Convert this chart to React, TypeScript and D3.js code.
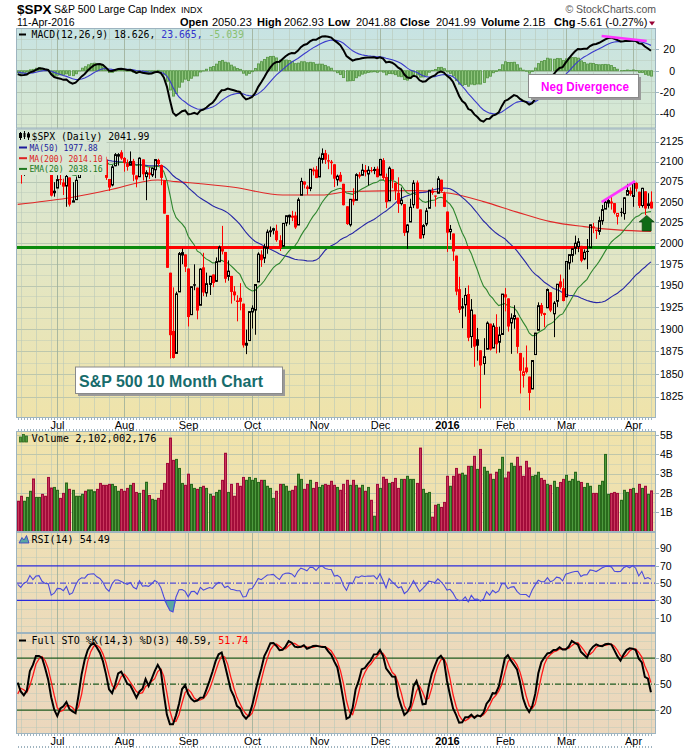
import React, { useEffect } from "react";
import * as d3 from "d3";

const W = 700;
const H = 748;

// ---------- trading calendar ----------
const tradingDays: [string, number[]][] = [
  ["2015-06", [12, 15, 16, 17, 18, 19, 22, 23, 24, 25, 26, 29, 30]],
  ["2015-07", [1, 2, 6, 7, 8, 9, 10, 13, 14, 15, 16, 17, 20, 21, 22, 23, 24, 27, 28, 29, 30, 31]],
  ["2015-08", [3, 4, 5, 6, 7, 10, 11, 12, 13, 14, 17, 18, 19, 20, 21, 24, 25, 26, 27, 28, 31]],
  ["2015-09", [1, 2, 3, 4, 8, 9, 10, 11, 14, 15, 16, 17, 18, 21, 22, 23, 24, 25, 28, 29, 30]],
  ["2015-10", [1, 2, 5, 6, 7, 8, 9, 12, 13, 14, 15, 16, 19, 20, 21, 22, 23, 26, 27, 28, 29, 30]],
  ["2015-11", [2, 3, 4, 5, 6, 9, 10, 11, 12, 13, 16, 17, 18, 19, 20, 23, 24, 25, 27, 30]],
  ["2015-12", [1, 2, 3, 4, 7, 8, 9, 10, 11, 14, 15, 16, 17, 18, 21, 22, 23, 24, 28, 29, 30, 31]],
  ["2016-01", [4, 5, 6, 7, 8, 11, 12, 13, 14, 15, 19, 20, 21, 22, 25, 26, 27, 28, 29]],
  ["2016-02", [1, 2, 3, 4, 5, 8, 9, 10, 11, 12, 16, 17, 18, 19, 22, 23, 24, 25, 26, 29]],
  ["2016-03", [1, 2, 3, 4, 7, 8, 9, 10, 11, 14, 15, 16, 17, 18, 21, 22, 23, 24, 28, 29, 30, 31]],
  ["2016-04", [1, 4, 5, 6, 7, 8, 11]],
];
const monthLabels = ["Jul", "Aug", "Sep", "Oct", "Nov", "Dec", "2016", "Feb", "Mar", "Apr"];

// ---------- daily bars [open, high, low, close] ----------
// warm-up bars (13-May to 11-Jun-2015), used only to seed the indicators
const warmupBars = [
  [2099.62, 2110.19, 2096.04, 2098.48], [2100.43, 2121.45, 2100.43, 2121.1], [2122.07, 2123.89, 2116.81, 2122.73],
  [2121.3, 2131.78, 2120.01, 2129.2], [2129.45, 2133.02, 2124.5, 2127.83], [2127.79, 2134.72, 2122.59, 2125.85],
  [2125.55, 2134.28, 2122.95, 2130.82], [2130.36, 2132.15, 2126.06, 2126.06], [2125.34, 2125.34, 2099.18, 2104.2],
  [2105.13, 2126.22, 2105.13, 2123.48], [2122.27, 2122.27, 2112.86, 2120.79], [2120.66, 2120.66, 2104.89, 2107.39],
  [2108.64, 2119.15, 2102.54, 2111.73], [2110.41, 2117.59, 2099.14, 2109.6], [2110.64, 2121.92, 2109.61, 2114.07],
  [2112.35, 2112.89, 2093.23, 2095.84], [2095.09, 2100.99, 2085.67, 2092.83], [2092.34, 2093.01, 2079.11, 2079.28],
  [2079.07, 2085.62, 2072.14, 2080.15], [2081.12, 2108.5, 2081.12, 2105.2], [2106.24, 2115.02, 2106.24, 2108.86],
];
const jun2015 = [
  [2107.43, 2107.43, 2091.33, 2094.11], [2091.34, 2091.34, 2072.49, 2084.43], [2084.26, 2097.4, 2082.1, 2096.29],
  [2097.4, 2106.79, 2088.86, 2100.44], [2101.58, 2126.65, 2101.58, 2121.24], [2121.06, 2121.64, 2109.45, 2109.99],
  [2112.5, 2129.87, 2112.5, 2122.85], [2123.16, 2128.03, 2119.89, 2124.2], [2123.65, 2125.1, 2108.58, 2108.58],
  [2109.96, 2116.04, 2101.78, 2102.31], [2102.62, 2108.92, 2095.38, 2101.49], [2098.63, 2098.63, 2056.64, 2057.64],
  [2061.19, 2074.28, 2056.32, 2063.11],
];
const jul2015 = [
  [2067.0, 2082.78, 2067.0, 2077.42], [2078.03, 2085.06, 2071.02, 2076.78], [2073.95, 2078.61, 2058.4, 2068.76],
  [2069.52, 2083.74, 2044.02, 2081.34], [2080.11, 2080.11, 2044.38, 2046.68], [2049.73, 2074.28, 2049.73, 2051.31],
  [2052.74, 2081.31, 2052.74, 2076.62], [2080.03, 2100.67, 2080.03, 2099.6], [2099.72, 2111.98, 2099.72, 2108.95],
  [2109.21, 2114.14, 2102.49, 2107.4], [2110.55, 2124.42, 2110.55, 2124.29], [2126.8, 2128.91, 2118.52, 2126.64],
  [2126.85, 2132.82, 2123.66, 2128.28], [2127.55, 2128.49, 2115.4, 2119.21], [2118.21, 2118.51, 2110.0, 2114.15],
  [2114.16, 2116.87, 2098.63, 2102.15], [2102.24, 2106.01, 2077.09, 2079.65], [2078.19, 2078.19, 2063.52, 2067.64],
  [2070.75, 2095.6, 2069.09, 2093.25], [2094.7, 2110.6, 2094.08, 2108.57], [2106.78, 2110.48, 2094.97, 2108.63],
  [2111.6, 2114.24, 2102.07, 2103.84],
];
const aug2015 = [
  [2104.49, 2105.7, 2087.31, 2098.04], [2097.68, 2102.51, 2088.6, 2093.32], [2095.27, 2112.66, 2095.27, 2099.84],
  [2100.75, 2103.32, 2075.53, 2083.56], [2082.61, 2082.61, 2067.91, 2077.57], [2080.98, 2105.35, 2080.98, 2104.18],
  [2102.66, 2102.66, 2076.49, 2084.07], [2081.1, 2089.06, 2052.09, 2086.05], [2086.19, 2092.93, 2078.26, 2083.39],
  [2083.15, 2092.45, 2080.61, 2091.54], [2089.7, 2102.87, 2079.3, 2102.44], [2101.99, 2103.47, 2094.14, 2096.92],
  [2095.69, 2096.17, 2070.53, 2079.61], [2076.61, 2076.61, 2035.73, 2035.73], [2034.08, 2034.08, 1970.89, 1970.89],
  [1965.15, 1965.15, 1867.01, 1893.21], [1898.08, 1948.04, 1867.08, 1867.61], [1872.75, 1943.09, 1872.75, 1940.51],
  [1942.77, 1989.6, 1942.77, 1987.66], [1986.06, 1993.48, 1975.19, 1988.87], [1986.73, 1986.73, 1965.98, 1972.18],
];
const sep2015 = [
  [1970.09, 1970.09, 1903.07, 1913.85], [1916.52, 1948.91, 1916.52, 1948.86], [1950.79, 1975.01, 1944.72, 1951.13],
  [1947.76, 1947.76, 1911.21, 1921.22], [1927.3, 1970.42, 1927.3, 1969.41], [1971.45, 1988.63, 1937.88, 1942.04],
  [1941.59, 1965.29, 1937.19, 1952.29], [1951.45, 1961.05, 1939.19, 1961.05], [1963.06, 1963.06, 1948.27, 1953.03],
  [1955.1, 1983.19, 1954.3, 1978.09], [1978.02, 1997.26, 1977.93, 1995.31], [1995.33, 2020.86, 1986.73, 1990.2],
  [1989.66, 1989.66, 1953.45, 1958.03], [1960.84, 1979.64, 1955.8, 1966.97], [1961.39, 1961.39, 1929.22, 1942.74],
  [1943.24, 1949.52, 1932.57, 1938.76], [1932.24, 1938.88, 1908.92, 1932.24], [1935.93, 1952.89, 1921.5, 1931.34],
  [1929.18, 1929.18, 1879.21, 1881.77], [1881.9, 1899.48, 1871.91, 1884.09], [1887.14, 1920.53, 1887.14, 1920.03],
];
const oct2015 = [
  [1919.65, 1927.21, 1900.7, 1923.82], [1921.77, 1951.36, 1893.7, 1951.36], [1954.33, 1989.17, 1954.33, 1987.05],
  [1986.63, 1991.62, 1971.99, 1979.92], [1982.34, 1999.31, 1976.44, 1995.83], [1994.01, 2016.5, 1987.53, 2013.43],
  [2013.73, 2020.13, 2007.61, 2014.89], [2015.65, 2018.66, 2010.55, 2017.46], [2015.0, 2022.34, 2001.78, 2003.69],
  [2003.66, 2009.56, 1990.73, 1994.24], [1996.47, 2024.15, 1996.47, 2023.86], [2024.37, 2033.54, 2020.46, 2033.11],
  [2031.73, 2034.45, 2022.31, 2033.66], [2033.13, 2039.12, 2026.61, 2030.77], [2033.47, 2037.97, 2017.22, 2018.94],
  [2021.88, 2055.2, 2021.88, 2052.51], [2058.19, 2079.74, 2058.19, 2075.15], [2075.08, 2075.14, 2066.53, 2071.18],
  [2068.75, 2070.37, 2058.84, 2065.89], [2066.48, 2090.35, 2063.11, 2090.35], [2088.35, 2092.52, 2082.63, 2089.41],
  [2090.0, 2094.32, 2079.34, 2079.36],
];
const nov2015 = [
  [2080.76, 2106.2, 2080.76, 2104.05], [2102.63, 2116.48, 2097.51, 2109.79], [2110.6, 2114.59, 2096.98, 2102.31],
  [2101.68, 2108.78, 2090.41, 2099.93], [2098.6, 2101.91, 2083.74, 2099.2], [2096.56, 2096.56, 2068.24, 2078.58],
  [2077.19, 2083.67, 2069.91, 2081.72], [2083.41, 2086.94, 2074.85, 2075.0], [2072.29, 2072.29, 2045.66, 2045.97],
  [2044.64, 2044.64, 2022.02, 2023.04], [2022.08, 2053.22, 2019.94, 2053.19], [2053.67, 2066.69, 2045.9, 2050.44],
  [2051.99, 2085.31, 2051.99, 2083.58], [2083.7, 2086.74, 2078.76, 2081.24], [2082.82, 2097.06, 2082.82, 2089.17],
  [2089.41, 2095.61, 2081.39, 2086.59], [2084.42, 2094.12, 2070.29, 2089.14], [2089.3, 2093.0, 2086.3, 2088.87],
  [2088.82, 2093.29, 2084.13, 2090.11], [2090.95, 2093.81, 2080.41, 2080.41],
];
const dec2015 = [
  [2082.93, 2103.37, 2082.93, 2102.63], [2101.71, 2104.27, 2077.11, 2079.51], [2080.71, 2085.0, 2042.35, 2049.62],
  [2051.24, 2093.84, 2051.24, 2091.69], [2090.42, 2090.42, 2066.78, 2077.07], [2073.39, 2073.85, 2052.32, 2063.59],
  [2061.17, 2080.33, 2036.53, 2047.62], [2047.93, 2067.65, 2045.67, 2052.23], [2047.27, 2047.27, 2008.8, 2012.37],
  [2013.37, 2022.92, 1993.26, 2021.94], [2025.55, 2053.87, 2025.55, 2043.41], [2046.5, 2076.72, 2042.43, 2073.07],
  [2073.76, 2076.37, 2041.66, 2041.89], [2040.81, 2040.81, 2005.33, 2005.55], [2010.27, 2022.9, 2005.93, 2021.15],
  [2023.15, 2042.74, 2020.49, 2038.97], [2042.2, 2064.73, 2042.2, 2064.29], [2063.52, 2067.36, 2058.73, 2060.99],
  [2057.77, 2057.77, 2044.2, 2056.5], [2060.54, 2081.56, 2060.54, 2078.36], [2077.34, 2077.34, 2061.97, 2063.36],
  [2060.59, 2062.54, 2043.62, 2043.94],
];
const jan2016 = [
  [2038.2, 2038.2, 1989.68, 2012.66], [2013.78, 2021.94, 2004.17, 2016.71], [2011.71, 2011.71, 1979.05, 1990.26],
  [1985.32, 1985.32, 1938.83, 1943.09], [1945.97, 1960.4, 1918.46, 1922.03], [1926.12, 1935.65, 1901.1, 1923.67],
  [1927.83, 1947.38, 1914.35, 1938.68], [1940.34, 1950.33, 1886.41, 1890.28], [1891.68, 1934.47, 1878.93, 1921.84],
  [1916.68, 1916.68, 1857.83, 1880.33], [1888.66, 1901.44, 1864.6, 1881.33], [1876.18, 1876.18, 1812.29, 1859.33],
  [1861.46, 1889.85, 1848.98, 1868.99], [1877.4, 1908.85, 1877.4, 1906.9], [1906.28, 1906.28, 1875.97, 1877.08],
  [1878.79, 1906.73, 1878.79, 1903.63], [1902.52, 1916.99, 1872.7, 1882.95], [1885.22, 1902.96, 1873.65, 1893.36],
  [1894.0, 1940.24, 1894.0, 1940.24],
];
const feb2016 = [
  [1936.94, 1947.2, 1920.3, 1939.38], [1935.26, 1935.26, 1897.29, 1903.03], [1907.07, 1918.01, 1872.23, 1912.53],
  [1911.67, 1927.35, 1900.52, 1915.45], [1913.07, 1913.07, 1872.65, 1880.05], [1873.25, 1873.25, 1828.46, 1853.44],
  [1848.46, 1868.25, 1834.94, 1852.21], [1857.1, 1881.6, 1850.32, 1851.86], [1847.0, 1847.0, 1810.1, 1829.08],
  [1833.4, 1864.78, 1833.4, 1864.78], [1871.44, 1895.77, 1871.44, 1895.58], [1898.8, 1930.68, 1898.8, 1926.82],
  [1927.57, 1930.0, 1915.09, 1917.83], [1916.74, 1918.78, 1902.17, 1917.78], [1924.44, 1946.7, 1924.44, 1945.5],
  [1942.38, 1942.38, 1919.44, 1921.27], [1917.56, 1932.08, 1891.0, 1929.8], [1931.87, 1951.83, 1925.41, 1951.7],
  [1954.95, 1962.96, 1945.78, 1948.05], [1947.13, 1958.27, 1931.81, 1932.23],
];
const mar2016 = [
  [1937.09, 1978.35, 1937.09, 1978.35], [1976.6, 1986.51, 1968.8, 1986.45], [1985.6, 1993.69, 1977.37, 1993.4],
  [1994.01, 2009.13, 1986.77, 1999.99], [1996.11, 2006.12, 1989.38, 2001.76], [1996.88, 1996.88, 1977.43, 1979.26],
  [1981.44, 1992.69, 1979.84, 1989.26], [1990.97, 2005.08, 1969.25, 1989.57], [1994.71, 2022.37, 1994.71, 2022.19],
  [2019.27, 2024.57, 2012.05, 2019.64], [2015.27, 2015.94, 2005.23, 2015.93], [2014.24, 2032.02, 2010.04, 2027.22],
  [2026.9, 2046.24, 2022.16, 2040.59], [2041.16, 2052.36, 2041.16, 2049.58], [2048.64, 2053.91, 2043.14, 2051.6],
  [2048.64, 2056.6, 2040.57, 2049.8], [2048.55, 2048.55, 2034.86, 2036.71], [2032.48, 2036.04, 2022.49, 2035.94],
  [2037.89, 2042.67, 2031.96, 2037.05], [2035.75, 2055.91, 2028.31, 2055.01], [2058.27, 2072.21, 2058.27, 2063.95],
  [2063.77, 2067.92, 2057.46, 2059.74],
];
const apr2016 = [
  [2056.62, 2075.07, 2043.98, 2072.78], [2073.19, 2074.02, 2062.57, 2066.13], [2062.5, 2062.5, 2042.56, 2045.17],
  [2045.56, 2067.33, 2043.09, 2066.66], [2063.01, 2063.01, 2033.8, 2041.91], [2045.54, 2060.63, 2041.69, 2047.6],
  [2050.23, 2062.93, 2041.88, 2041.99],
];

// daily volume, billions of shares
const volumesB = [
  1.56, 1.82, 1.56, 1.76, 2.08, 2.72, 1.76, 1.76, 1.92, 1.82, 2.8, 2.25, 2.28, 2.13, 1.71, 1.97, 2.51, 2.18, 2.13, 1.82,
  1.82, 1.92, 2.08, 2.15, 2.15, 2.06, 2.18, 2.49, 2.39, 2.39, 2.44, 2.44, 2.33, 2.08, 2.18, 2.08, 2.23, 2.39, 2.49, 2.02,
  1.97, 2.13, 2.55, 1.86, 1.66, 1.61, 1.71, 2.13, 2.49, 3.53,
  4.85, 3.69, 3.74, 3.27, 2.49, 2.39, 2.97, 2.44, 2.23, 2.18, 2.28, 2.34, 2.23, 1.92, 1.82, 2.02, 2.13, 2.65, 4.06, 2.02,
  2.44, 1.82, 2.49, 2.34, 2.8, 2.65, 2.8, 2.65, 2.75, 2.54, 2.65, 2.65, 2.34, 2.23, 1.71, 2.08, 2.44, 2.44, 2.34, 2.08,
  2.13, 2.34, 2.97, 2.7, 2.18, 2.44, 2.65, 2.23, 2.54, 2.28, 2.39, 2.44, 2.39, 2.6, 2.39, 2.28, 2.13, 2.44, 2.65, 2.39,
  2.65, 2.39,
  2.25, 2.39, 2.08, 2.28, 1.61, 0.78, 2.44, 2.23, 2.81, 2.7, 2.49, 2.54, 2.75, 2.23, 2.7, 2.7, 2.86, 2.7, 2.7, 2.49,
  4.33, 2.18, 1.97, 2.02, 0.73, 1.35, 1.4, 1.24, 1.5, 2.86, 2.34, 2.86, 3.27, 2.97, 3.02, 2.91, 3.38, 3.38, 3.9, 3.22,
  4.26, 3.33, 3.12, 2.97, 2.7, 3.07, 3.22, 3.85,
  2.77, 3.08, 3.54, 3.38, 3.85, 3.38, 2.86, 3.64, 3.3, 2.86, 2.91, 3.07, 2.75, 2.65, 2.44, 2.39, 2.6, 2.28, 2.54, 2.7,
  2.91, 2.6, 2.7, 3.07, 2.6, 2.54, 2.28, 2.49, 2.34, 1.97, 1.97, 2.39, 2.6, 4.0, 1.92, 1.97, 2.02, 1.97, 1.61, 2.13,
  2.02, 2.18, 2.23, 1.97, 2.44, 2.23, 2.34, 1.92, 2.1,
];

// 200-day moving average (day index, value)
const ma200Index = [0, 16, 30, 46, 52, 71, 87, 100, 109, 131, 142, 153, 164, 175, 186, 197, 208];
const ma200Value = [2047, 2054.5, 2064.5, 2077, 2075, 2068, 2058.5, 2058.5, 2062.8, 2063.8, 2060.5, 2050.3, 2037.5, 2026, 2020, 2016, 2014.1];

// axis ticks
const priceTicks = [1825, 1850, 1875, 1900, 1925, 1950, 1975, 2000, 2025, 2050, 2075, 2100, 2125];
const macdTicks = [-40, -20, 0, 20];
const volTicks = [1, 2, 3, 4, 5];
const rsiTicks = [10, 30, 50, 70, 90];
const stoTicks = [20, 50, 80];

// annotations (day index, value)
const supportLevel = 1995;
const supportBreaks = [[48.7, 86.2], [142.6, 187.3]];
const priceDivergence = [[191.8, 2049.6], [202.8, 2075.6]];
const macdDivergence = [[191.8, 32.4], [206.6, 27.7]];
const arrowAt = [206.6, 2014.8];

// ---------- derived series ----------
const bars = [
  ...jun2015, ...jul2015, ...aug2015, ...sep2015, ...oct2015, ...nov2015,
  ...dec2015, ...jan2016, ...feb2016, ...mar2016, ...apr2016,
];
const allBars = [...warmupBars, ...bars];
const N0 = warmupBars.length;
const dates = tradingDays.flatMap(([ym, ds]) =>
  ds.map((d) => new Date(`${ym}-${String(d).padStart(2, "0")}T12:00:00`))
);

function ema(vals: number[], n: number) {
  const k = 2 / (n + 1);
  const out: number[] = [];
  let e = vals[0];
  vals.forEach((v, i) => {
    e = i === 0 ? v : v * k + e * (1 - k);
    out.push(e);
  });
  return out;
}
function sma(vals: number[], n: number) {
  return vals.map((_, i) => {
    if (i < n - 1) return NaN;
    const s = vals.slice(i - n + 1, i + 1);
    if (s.some((v) => isNaN(v))) return NaN;
    return d3.mean(s) as number;
  });
}
function rsi(c: number[], n: number) {
  const out = c.map(() => NaN);
  let g = 0, l = 0;
  for (let i = 1; i <= n; i++) {
    const d = c[i] - c[i - 1];
    if (d > 0) g += d; else l -= d;
  }
  g /= n; l /= n;
  out[n] = 100 - 100 / (1 + g / l);
  for (let i = n + 1; i < c.length; i++) {
    const d = c[i] - c[i - 1];
    g = (g * (n - 1) + Math.max(d, 0)) / n;
    l = (l * (n - 1) + Math.max(-d, 0)) / n;
    out[i] = 100 - 100 / (1 + g / l);
  }
  return out;
}

const closesAll = allBars.map((b) => b[3]);
const highsAll = allBars.map((b) => b[1]);
const lowsAll = allBars.map((b) => b[2]);
const ema12 = ema(closesAll, 12);
const ema26 = ema(closesAll, 26);
const macdAll = ema12.map((v, i) => v - ema26[i]);
const signalAll = ema(macdAll, 9);
const ma50All = sma(closesAll, 50);
const ema20All = ema(closesAll, 20);
const rsiAll = rsi(closesAll, 14);
const fastK = closesAll.map((c, i) => {
  if (i < 13) return NaN;
  const hh = d3.max(highsAll.slice(i - 13, i + 1)) as number;
  const ll = d3.min(lowsAll.slice(i - 13, i + 1)) as number;
  return ((c - ll) / (hh - ll)) * 100;
});
const slowK = sma(fastK, 3);
const slowD = sma(slowK, 3);

const cut = (a: number[]) => a.slice(N0);
const macd = cut(macdAll);
const signal = cut(signalAll);
const hist = macd.map((v, i) => v - signal[i]);
const ma50 = cut(ma50All);
const ema20 = cut(ema20All);
const rsiV = cut(rsiAll);
const stoK = cut(slowK);
const stoD = cut(slowD);

// ---------- layout ----------
const L = 16;
const R = 656;
const PM = { top: 28, bottom: 128.5 };
const PP = { top: 128.5, bottom: 418 };
const PV = { top: 431, bottom: 532 };
const PR = { top: 532, bottom: 633 };
const PS = { top: 633, bottom: 734 };

const x = d3.scaleLinear().domain([-0.56, 209.66]).range([L, R]);
const yM = d3.scaleLinear().domain([-54.0, 39.9]).range([PM.bottom, PM.top]);
const yP = d3.scaleLog().domain([1801.9, 2141.8]).range([PP.bottom, PP.top]);
const yV = d3.scaleLinear().domain([0, 5.22]).range([531.2, PV.top]);
const yR = d3.scaleLinear().domain([-7.6, 109]).range([PR.bottom, PR.top]);
const yS = d3.scaleLinear().domain([-7.6, 109]).range([PS.bottom, PS.top]);

const cx = (i: number) => Math.round(x(i)) + 0.5;

const weekStart = dates.map(
  (d, i) => i > 0 && (d.getDay() <= dates[i - 1].getDay() || d.getTime() - dates[i - 1].getTime() > 4 * 864e5)
);
const monthStart = dates.map((d, i) => i > 0 && d.getMonth() !== dates[i - 1].getMonth());
const monthIdx = monthStart.map((m, i) => (m ? i : -1)).filter((i) => i >= 0);
const weekIdx = weekStart.map((w, i) => (w && !monthStart[i] ? i : -1)).filter((i) => i >= 0);

const MONO = "'DejaVu Sans Mono', monospace";
const SANS = "'Liberation Sans', Arial, sans-serif";

const lineGen = (ys: (v: number) => number, vals: number[]) =>
  d3
    .line<number>()
    .defined((v) => !isNaN(v))
    .x((_, i) => x(i))
    .y((v) => ys(v))(vals) || "";

function Grid({ top, bottom, hLines, hMinor }: { top: number; bottom: number; hLines: number[]; hMinor?: number[] }) {
  return (
    <g>
      {(hMinor || []).map((y, k) => (
        <line key={"hm" + k} x1={L} x2={R} y1={Math.round(y) + 0.5} y2={Math.round(y) + 0.5} stroke="#b9c8b9" strokeOpacity={0.45} />
      ))}
      {hLines.map((y, k) => (
        <line key={"h" + k} x1={L} x2={R} y1={Math.round(y) + 0.5} y2={Math.round(y) + 0.5} stroke="#a9bba9" strokeOpacity={0.7} />
      ))}
      {weekIdx.map((i) => (
        <line key={"w" + i} x1={cx(i)} x2={cx(i)} y1={top} y2={bottom} stroke="#b9c8b9" strokeOpacity={0.6} />
      ))}
      {monthIdx.map((i) => (
        <line key={"m" + i} x1={cx(i)} x2={cx(i)} y1={top} y2={bottom} stroke="#9fb09a" strokeOpacity={0.85} />
      ))}
    </g>
  );
}

export default function App() {
  useEffect(() => {
    document.body.style.margin = "0";
  }, []);

  const prevClose = (i: number) => (i === 0 ? warmupBars[N0 - 1][3] : bars[i - 1][3]);

  const ma200Pts = ma200Index.map((d, k) => [d, ma200Value[k]] as [number, number]);
  const ma200Path =
    d3
      .line<[number, number]>()
      .curve(d3.curveMonotoneX)
      .x((d) => x(d[0]))
      .y((d) => yP(d[1]))(ma200Pts) || "";

  const rsiFill =
    d3
      .area<number>()
      .defined((v) => !isNaN(v))
      .x((_, i) => x(i))
      .y0(yR(30))
      .y1((v) => yR(Math.min(v, 30)))(rsiV) || "";

  const headerItems: { t: string; x: number; b?: boolean }[] = [
    { t: "Open", x: 180, b: true }, { t: "2050.23", x: 212 },
    { t: "High", x: 257, b: true }, { t: "2062.93", x: 284 },
    { t: "Low", x: 328, b: true }, { t: "2041.88", x: 356 },
    { t: "Close", x: 400, b: true }, { t: "2041.99", x: 436 },
    { t: "Volume", x: 481, b: true }, { t: "2.1B", x: 523 },
    { t: "Chg", x: 554, b: true }, { t: "-5.61 (-0.27%)", x: 577 },
  ];

  const dayTicks = (y: number, key: string) =>
    bars.map((_, i) => <rect key={key + i} x={Math.round(x(i))} y={y} width={1} height={2} fill="#9fb4c0" />);

  return (
    <div style={{ position: "absolute", left: 0, top: 0, width: W, height: H, background: "#fff" }}>
      <svg width={W} height={H} style={{ display: "block" }} fontFamily={SANS}>
        <defs>
          <linearGradient id="gM" gradientUnits="userSpaceOnUse" x1={0} y1={PM.top} x2={0} y2={PM.bottom}>
            <stop offset="0" stopColor="#c7e3e3" />
            <stop offset="1" stopColor="#d8e8d0" />
          </linearGradient>
          <linearGradient id="gP" gradientUnits="userSpaceOnUse" x1={0} y1={PP.top} x2={0} y2={PP.bottom}>
            <stop offset="0" stopColor="#d5e6d6" />
            <stop offset="0.5" stopColor="#e3e6c3" />
            <stop offset="1" stopColor="#efe3aa" />
          </linearGradient>
          <linearGradient id="gV" gradientUnits="userSpaceOnUse" x1={0} y1={PV.top} x2={0} y2={PV.bottom}>
            <stop offset="0" stopColor="#f0e3ab" />
            <stop offset="1" stopColor="#eee0b2" />
          </linearGradient>
          <linearGradient id="gR" gradientUnits="userSpaceOnUse" x1={0} y1={PR.top} x2={0} y2={PR.bottom}>
            <stop offset="0" stopColor="#eedfb5" />
            <stop offset="1" stopColor="#ecdbbb" />
          </linearGradient>
          <linearGradient id="gS" gradientUnits="userSpaceOnUse" x1={0} y1={PS.top} x2={0} y2={PS.bottom}>
            <stop offset="0" stopColor="#ecdabb" />
            <stop offset="1" stopColor="#ebd7bd" />
          </linearGradient>
          {[["cM", PM], ["cP", PP], ["cV", PV], ["cR", PR], ["cS", PS]].map(([id, p]: any) => (
            <clipPath id={id} key={id}>
              <rect x={L} y={p.top} width={R - L} height={p.bottom - p.top} />
            </clipPath>
          ))}
        </defs>

        {/* ---------- header ---------- */}
        <text x={17} y={14} fontSize={13.5} fontWeight="bold">$SPX</text>
        <text x={54} y={13} fontSize={10.5}>S&amp;P 500 Large Cap Index</text>
        <text x={181} y={13} fontSize={9}>INDX</text>
        <text x={17} y={26} fontSize={10.5}>11-Apr-2016</text>
        <text x={656} y={13} fontSize={10.5} fill="#555" textAnchor="end">© StockCharts.com</text>
        {headerItems.map((h, k) => (
          <text key={k} x={h.x} y={26} fontSize={11} fontWeight={h.b ? "bold" : "normal"}>{h.t}</text>
        ))}
        <path d="M649,21.5 L655,21.5 L652,25.5 Z" fill="#990033" />

        {/* ---------- panel backgrounds ---------- */}
        <rect x={L} y={PM.top} width={R - L} height={PM.bottom - PM.top} fill="url(#gM)" />
        <rect x={L} y={PP.top} width={R - L} height={PP.bottom - PP.top} fill="url(#gP)" />
        <rect x={L} y={PV.top} width={R - L} height={PV.bottom - PV.top} fill="url(#gV)" />
        <rect x={L} y={PR.top} width={R - L} height={PR.bottom - PR.top} fill="url(#gR)" />
        <rect x={L} y={PS.top} width={R - L} height={PS.bottom - PS.top} fill="url(#gS)" />

        {/* ---------- MACD panel ---------- */}
        <Grid top={PM.top} bottom={PM.bottom} hLines={macdTicks.map(yM)} hMinor={[-50, -30, -10, 10, 30].map(yM)} />
        <g clipPath="url(#cM)">
          {hist.map((h, i) => {
            const y0 = yM(0), y1 = yM(h);
            return (
              <rect key={i} x={cx(i) - 1} y={Math.min(y0, y1)} width={2} height={Math.max(Math.abs(y1 - y0), 0.3)}
                fill="#8cc47a" stroke="#5b9a4a" strokeWidth={0.9} />
            );
          })}
          <path d={lineGen(yM, signal)} fill="none" stroke="#3a3acc" strokeWidth={1.1} />
          <path d={lineGen(yM, macd)} fill="none" stroke="#000" strokeWidth={2} />
          <line x1={x(macdDivergence[0][0])} y1={yM(macdDivergence[0][1])} x2={x(macdDivergence[1][0])} y2={yM(macdDivergence[1][1])}
            stroke="#ff33ff" strokeWidth={2.6} />
        </g>
        <line x1={19} x2={26} y1={34.5} y2={34.5} stroke="#000" strokeWidth={2} />
        <text x={31.5} y={38} fontSize={9.8} fontFamily={MONO}>
          <tspan fill="#000">MACD(12,26,9) 18.626,</tspan>
          <tspan fill="#3333cc"> 23.665,</tspan>
          <tspan fill="#88c070"> -5.039</tspan>
        </text>
        {/* Neg Divergence callout */}
        <rect x={531} y={77} width={110} height={23} fill="#9a9a9a" />
        <rect x={528.5} y={74.5} width={110} height={23} fill="#fff" stroke="#8a8a8a" />
        <text x={541} y={90.5} fontSize={12.5} fontWeight="bold" fill="#ff00ff" textLength={88} lengthAdjust="spacingAndGlyphs">Neg Divergence</text>

        {/* ---------- price panel ---------- */}
        <Grid top={PP.top} bottom={PP.bottom} hLines={priceTicks.map(yP)}
          hMinor={priceTicks.map((t) => yP(t + 12.5)).filter((y) => y > PP.top)} />
        <g clipPath="url(#cP)">
          <path d={ma200Path} fill="none" stroke="#e02828" strokeWidth={1.1} />
          <path d={lineGen(yP, ma50)} fill="none" stroke="#2626a6" strokeWidth={1.1} />
          <path d={lineGen(yP, ema20)} fill="none" stroke="#2f862f" strokeWidth={1.1} />
          <line x1={L} x2={R} y1={yP(supportLevel)} y2={yP(supportLevel)} stroke="#0a8a0a" strokeWidth={3} />
          {supportBreaks.map((s, k) => (
            <line key={k} x1={x(s[0])} x2={x(s[1])} y1={yP(supportLevel)} y2={yP(supportLevel)} stroke="#ff0000" strokeWidth={3} />
          ))}
          {bars.map((b, i) => {
            const [o, h, l, c] = b;
            const color = c < prevClose(i) ? "#ff0000" : "#000000";
            const hollow = c >= o;
            const X = cx(i);
            const yO = yP(o), yC = yP(c), yH = yP(h), yL = yP(l);
            const top = Math.min(yO, yC), bot = Math.max(yO, yC);
            if (hollow) {
              return (
                <g key={i}>
                  <line x1={X} x2={X} y1={yH} y2={top} stroke={color} />
                  <line x1={X} x2={X} y1={bot} y2={yL} stroke={color} />
                  <rect x={X - 1} y={top} width={2} height={Math.max(bot - top, 0.5)} fill="none" stroke={color} />
                </g>
              );
            }
            return (
              <g key={i}>
                <line x1={X} x2={X} y1={yH} y2={yL} stroke={color} />
                <rect x={X - 1.5} y={top} width={3} height={Math.max(bot - top, 1)} fill={color} />
              </g>
            );
          })}
          <line x1={x(priceDivergence[0][0])} y1={yP(priceDivergence[0][1])} x2={x(priceDivergence[1][0])} y2={yP(priceDivergence[1][1])}
            stroke="#ff33ff" strokeWidth={2.6} />
          {(() => {
            const ax = x(arrowAt[0]);
            const ab = yP(arrowAt[1]);
            const d = `M${ax - 4.5},${ab} L${ax + 4.5},${ab} L${ax + 4.5},${ab - 9} L${ax + 7.5},${ab - 9} L${ax},${ab - 15.5} L${ax - 7.5},${ab - 9} L${ax - 4.5},${ab - 9} Z`;
            return <path d={d} fill="#0f6b16" stroke="#08400c" strokeWidth={0.7} />;
          })()}
        </g>
        {/* price legend with opaque backgrounds */}
        <rect x={L + 0.5} y={129} width={135} height={12.5} fill="url(#gP)" />
        <rect x={L + 0.5} y={141.5} width={90} height={33.5} fill="url(#gP)" />
        <g>
          <line x1={20.5} x2={20.5} y1={132} y2={140} stroke="#000" />
          <rect x={19.5} y={133.5} width={2} height={4} fill="none" stroke="#000" />
          <line x1={24.5} x2={24.5} y1={131} y2={139} stroke="#000" />
          <rect x={23.5} y={133} width={2} height={4} fill="#000" />
          <line x1={28.5} x2={28.5} y1={132} y2={140} stroke="#000" />
          <rect x={27.5} y={134} width={2} height={3} fill="none" stroke="#000" />
        </g>
        <text x={31.5} y={140} fontSize={9.8} fontFamily={MONO}>$SPX (Daily) 2041.99</text>
        <line x1={19} x2={27} y1={147.5} y2={147.5} stroke="#1c1c9c" strokeWidth={2} />
        <text x={29.5} y={151} fontSize={8.1} fontFamily={MONO} fill="#1c1c9c">MA(50) 1977.88</text>
        <line x1={19} x2={27} y1={158.2} y2={158.2} stroke="#dd2222" strokeWidth={2} />
        <text x={29.5} y={161.7} fontSize={8.1} fontFamily={MONO} fill="#dd2222">MA(200) 2014.10</text>
        <line x1={19} x2={27} y1={168.9} y2={168.9} stroke="#217821" strokeWidth={2} />
        <text x={29.5} y={172.4} fontSize={8.1} fontFamily={MONO} fill="#217821">EMA(20) 2038.16</text>
        {/* chart title callout */}
        <rect x={78} y={369.5} width={207} height={26.5} fill="#9a9a9a" />
        <rect x={75.5} y={367} width={207} height={26.5} fill="#fff" stroke="#8a8a8a" />
        <text x={79} y={386.5} fontSize={16.5} fontWeight="bold" fill="#176c6c" textLength={184} lengthAdjust="spacingAndGlyphs">S&amp;P 500 10 Month Chart</text>

        {/* ---------- volume panel ---------- */}
        <Grid top={PV.top} bottom={PV.bottom} hLines={volTicks.map(yV)} hMinor={[0.5, 1.5, 2.5, 3.5, 4.5].map(yV)} />
        <g clipPath="url(#cV)">
          {volumesB.map((v, i) => {
            const up = bars[i][3] >= prevClose(i);
            return (
              <rect key={i} x={cx(i) - 1} y={yV(v)} width={2} height={yV(0) - yV(v) + 1}
                fill={up ? "#4f9a3e" : "#c8375c"} stroke={up ? "#2a6a1c" : "#a20c3a"} strokeWidth={1} />
            );
          })}
        </g>
        <g>
          <rect x={19.5} y={437} width={2} height={5} fill="#4f9a3e" stroke="#2a6a1c" strokeWidth={0.8} />
          <rect x={22.5} y={434.5} width={2} height={7.5} fill="#4f9a3e" stroke="#2a6a1c" strokeWidth={0.8} />
          <rect x={25.5} y={436} width={2} height={6} fill="#4f9a3e" stroke="#2a6a1c" strokeWidth={0.8} />
        </g>
        <text x={31.5} y={442} fontSize={10.4} fontFamily={MONO}>Volume 2,102,002,176</text>

        {/* ---------- RSI panel ---------- */}
        <Grid top={PR.top} bottom={PR.bottom} hLines={[]} hMinor={[0, 10, 20, 40, 60, 80, 90, 100].map(yR)} />
        <g clipPath="url(#cR)">
          <path d={rsiFill} fill="#5aa7a2" />
          <line x1={L} x2={R} y1={yR(70)} y2={yR(70)} stroke="#2b2bdd" strokeWidth={1.2} />
          <line x1={L} x2={R} y1={yR(30)} y2={yR(30)} stroke="#2b2bdd" strokeWidth={1.2} />
          <line x1={L} x2={R} y1={yR(50)} y2={yR(50)} stroke="#2b2bdd" strokeWidth={1} strokeDasharray="6,2,1,2" />
          <path d={lineGen(yR, rsiV)} fill="none" stroke="#4b4bdd" strokeWidth={1.1} />
        </g>
        <path d="M19,543 L22,537.5 L24,540 L26.5,535.5 L29,543 Z" fill="#5aa7a2" stroke="#3535c8" strokeWidth={0.8} />
        <text x={31.5} y={543} fontSize={10} fontFamily={MONO}>RSI(14) 54.49</text>

        {/* ---------- Full STO panel ---------- */}
        <Grid top={PS.top} bottom={PS.bottom} hLines={[]} hMinor={[0, 10, 30, 40, 60, 70, 90, 100].map(yS)} />
        <g clipPath="url(#cS)">
          <line x1={L} x2={R} y1={yS(80)} y2={yS(80)} stroke="#1f5a1f" strokeWidth={1.3} />
          <line x1={L} x2={R} y1={yS(20)} y2={yS(20)} stroke="#1f5a1f" strokeWidth={1.3} />
          <line x1={L} x2={R} y1={yS(50)} y2={yS(50)} stroke="#1f5a1f" strokeWidth={1.1} strokeDasharray="6,2,1,2" />
          <path d={lineGen(yS, stoD)} fill="none" stroke="#ff1a1a" strokeWidth={1.3} />
          <path d={lineGen(yS, stoK)} fill="none" stroke="#000" strokeWidth={2} />
        </g>
        <line x1={19} x2={26} y1={640.5} y2={640.5} stroke="#000" strokeWidth={2} />
        <text x={31.5} y={644} fontSize={10} fontFamily={MONO}>
          <tspan fill="#000">Full STO %K(14,3) %D(3) 40.59,</tspan>
          <tspan fill="#ff0000"> 51.74</tspan>
        </text>

        {/* ---------- borders ---------- */}
        {[PM, PP, PV, PR, PS].map((p, k) => (
          <rect key={k} x={L + 0.5} y={p.top + 0.5} width={R - L - 1} height={p.bottom - p.top - 1} fill="none" stroke="#9db4c0" />
        ))}

        {/* ---------- right axes ---------- */}
        {priceTicks.map((t) => (
          <g key={"p" + t}>
            <line x1={R} x2={R + 3} y1={Math.round(yP(t)) + 0.5} y2={Math.round(yP(t)) + 0.5} stroke="#9db4c0" />
            <text x={660} y={yP(t) + 3.8} fontSize={10.5}>{t}</text>
          </g>
        ))}
        {macdTicks.map((t) => (
          <g key={"m" + t}>
            <line x1={R} x2={R + 3} y1={Math.round(yM(t)) + 0.5} y2={Math.round(yM(t)) + 0.5} stroke="#9db4c0" />
            <text x={675} y={yM(t) + 3.8} fontSize={10.5} textAnchor="end">{t}</text>
          </g>
        ))}
        {volTicks.map((t) => (
          <g key={"v" + t}>
            <line x1={R} x2={R + 3} y1={Math.round(yV(t)) + 0.5} y2={Math.round(yV(t)) + 0.5} stroke="#9db4c0" />
            <text x={660} y={yV(t) + 3.8} fontSize={10.5}>{t}B</text>
          </g>
        ))}
        {rsiTicks.map((t) => (
          <g key={"r" + t}>
            <line x1={R} x2={R + 3} y1={Math.round(yR(t)) + 0.5} y2={Math.round(yR(t)) + 0.5} stroke="#9db4c0" />
            <text x={660} y={yR(t) + 3.8} fontSize={10.5}>{t}</text>
          </g>
        ))}
        {stoTicks.map((t) => (
          <g key={"s" + t}>
            <line x1={R} x2={R + 3} y1={Math.round(yS(t)) + 0.5} y2={Math.round(yS(t)) + 0.5} stroke="#9db4c0" />
            <text x={660} y={yS(t) + 3.8} fontSize={10.5}>{t}</text>
          </g>
        ))}

        {/* ---------- date axes ---------- */}
        {dayTicks(418, "a")}
        {dayTicks(429, "b")}
        {dayTicks(734, "c")}
        {dayTicks(746, "d")}
        {monthIdx.map((i, k) => (
          <g key={"ml" + i}>
            <text x={cx(i)} y={428.5} fontSize={11} textAnchor="middle" fontWeight={monthLabels[k] === "2016" ? "bold" : "normal"}>
              {monthLabels[k]}
            </text>
            <text x={cx(i)} y={744.5} fontSize={11} textAnchor="middle" fontWeight={monthLabels[k] === "2016" ? "bold" : "normal"}>
              {monthLabels[k]}
            </text>
          </g>
        ))}
      </svg>
    </div>
  );
}
